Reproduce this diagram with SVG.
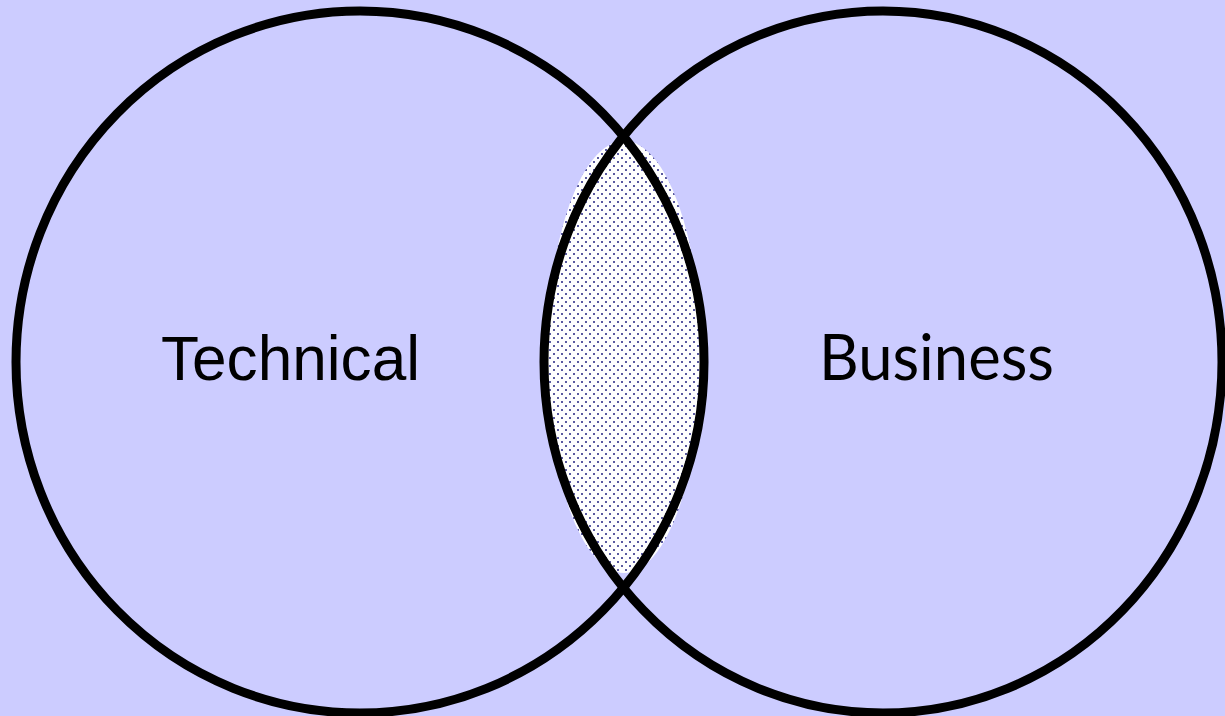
<svg xmlns="http://www.w3.org/2000/svg" width="1225" height="716" viewBox="0 0 1225 716">
  <defs>
    <!-- fine stipple for the shared region -->
    <pattern id="stipple" x="0" y="0" width="8" height="8" patternUnits="userSpaceOnUse">
      <rect width="8" height="8" fill="#ffffff"/>
      <rect x="1" y="1" width="2" height="2" fill="#5a5aa0"/>
      <rect x="5" y="5" width="2" height="2" fill="#5a5aa0"/>
    </pattern>
    <style>
      .ring { fill: none; stroke: #000000; stroke-width: 9; }
      .label { font-size: 63px; fill: #000000; }
    </style>
  </defs>

  <rect width="1225" height="716" fill="#ccccff"/>

  <g id="overlap">
    <ellipse cx="624" cy="357" rx="77" ry="216" fill="url(#stipple)"/>
  </g>

  <g id="technical">
    <ellipse class="ring" cx="360" cy="362" rx="344" ry="351"/>
    <text class="label" x="161" y="380" textLength="259" lengthAdjust="spacingAndGlyphs" font-family="'Liberation Sans', Arial, sans-serif">Technical</text>
  </g>

  <g id="business">
    <ellipse class="ring" cx="883" cy="362" rx="339" ry="351"/>
    <text class="label" x="819" y="380" textLength="235" lengthAdjust="spacingAndGlyphs" font-family="Lato, 'Open Sans', sans-serif">Business</text>
  </g>
</svg>
